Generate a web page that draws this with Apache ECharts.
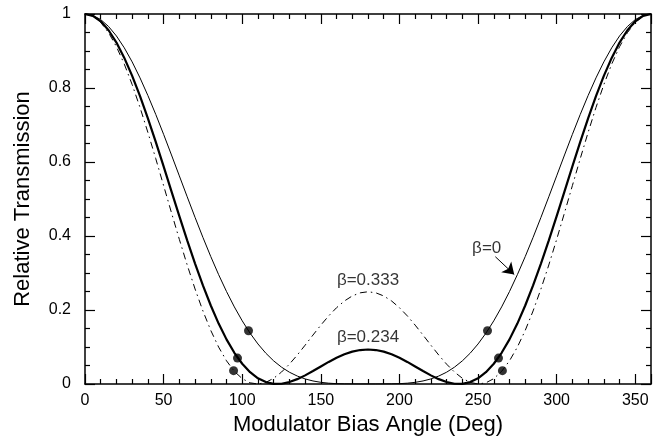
<!DOCTYPE html>
<html>
<head>
<meta charset="utf-8">
<script src="https://cdn.jsdelivr.net/npm/echarts@6/dist/echarts.min.js"></script>
<style>html,body{margin:0;padding:0;background:#fff}#c{width:654px;height:443px}</style>
</head>
<body>
<div id="c"></div>
<script>
const angles = [0,5,10,15,20,25,30,35,40,45,50,55,60,65,70,75,80,85,90,95,100,105,110,115,120,125,130,135,140,145,150,155,160,165,170,175,180,185,190,195,200,205,210,215,220,225,230,235,240,245,250,255,260,265,270,275,280,285,290,295,300,305,310,315,320,325,330,335,340,345,350,355,360];

const beta0 = [1,0.9962,0.9849,0.9662,0.9406,0.9085,0.8705,0.8273,0.7797,0.7286,0.6747,0.6190,0.5625,0.5060,0.4503,0.3962,0.3444,0.2955,0.2500,0.2083,0.1707,0.1373,0.1082,0.0833,0.0625,0.0455,0.0319,0.0215,0.0137,0.0082,0.0045,0.0022,0.0009,0.0003,0.0001,0,0,
  0,0.0001,0.0003,0.0009,0.0022,0.0045,0.0082,0.0137,0.0215,0.0319,0.0455,0.0625,0.0833,0.1082,0.1373,0.1707,0.2083,0.2500,0.2955,0.3444,0.3962,0.4503,0.5060,0.5625,0.6190,0.6747,0.7286,0.7797,0.8273,0.8705,0.9085,0.9406,0.9662,0.9849,0.9962,1];

const beta234 = [1,0.9951,0.9803,0.9560,0.9228,0.8814,0.8328,0.7779,0.7179,0.6542,0.5880,0.5208,0.4538,0.3883,0.3255,0.2665,0.2122,0.1633,0.1206,0.0843,0.0547,0.0318,0.0154,0.0051,0.0004,0.0007,0.0052,0.0131,0.0233,0.0351,0.0475,0.0597,0.0708,0.0802,0.0874,0.0918,0.0933,
  0.0918,0.0874,0.0802,0.0708,0.0597,0.0475,0.0351,0.0233,0.0131,0.0052,0.0007,0.0004,0.0051,0.0154,0.0318,0.0547,0.0843,0.1206,0.1633,0.2122,0.2665,0.3255,0.3883,0.4538,0.5208,0.5880,0.6542,0.7179,0.7779,0.8328,0.8814,0.9228,0.9560,0.9803,0.9951,1];

const beta333 = [1,0.9943,0.9774,0.9496,0.9116,0.8645,0.8092,0.7473,0.6800,0.6091,0.5362,0.4629,0.3909,0.3217,0.2568,0.1975,0.1448,0.0997,0.0627,0.0342,0.0145,0.0032,0.0000,0.0044,0.0155,0.0323,0.0536,0.0782,0.1049,0.1323,0.1591,0.1841,0.2062,0.2244,0.2380,0.2464,0.2493,
  0.2464,0.2380,0.2244,0.2062,0.1841,0.1591,0.1323,0.1049,0.0782,0.0536,0.0323,0.0155,0.0044,0.0000,0.0032,0.0145,0.0342,0.0627,0.0997,0.1448,0.1975,0.2568,0.3217,0.3909,0.4629,0.5362,0.6091,0.6800,0.7473,0.8092,0.8645,0.9116,0.9496,0.9774,0.9943,1];

const dotX = [104, 97, 94.5, 256, 263, 265.5];
const dotY = [0.144, 0.070, 0.036, 0.144, 0.070, 0.036];

const noteText = ['β=0.333', 'β=0.234', 'β=0'];
const noteX = [180, 180, 255.5];
const noteY = [0.281, 0.127, 0.368];

const arrowFrom = [261, 0.344];
const arrowTo = [273, 0.296];

const xTicks = {min: 0, max: 360, interval: 50};
const yTicks = {min: 0, max: 1, interval: 0.2};

const FONT = '"Liberation Sans", Arial, Helvetica, sans-serif';
const pair = (xs, ys) => xs.map((x, i) => [x, ys[i]]);

const chart = echarts.init(document.getElementById('c'));

function axisCommon(isX, showLabel) {
  return {
    type: 'value',
    min: isX ? xTicks.min : yTicks.min,
    max: isX ? xTicks.max : yTicks.max,
    interval: isX ? xTicks.interval : yTicks.interval,
    axisLine: {show: true, onZero: false, lineStyle: {color: '#000', width: 1.5}},
    axisTick: {show: true, inside: true, length: 10, lineStyle: {color: '#000', width: 1.2}},
    minorTick: {show: true, splitNumber: isX ? 5 : 4, length: 5, lineStyle: {color: '#000', width: 1.2}},
    splitLine: {show: false},
    minorSplitLine: {show: false},
    axisLabel: {
      show: showLabel,
      color: '#000',
      fontFamily: FONT,
      fontSize: 16,
      margin: isX ? 9 : 14,
      formatter: v => (isX && v === xTicks.max) ? '' : String(v)
    }
  };
}

const option = {
  animation: false,
  grid: {left: 85, right: 1.5, top: 14, bottom: 59},
  xAxis: [
    Object.assign(axisCommon(true, true), {
      position: 'bottom',
      name: 'Modulator Bias Angle (Deg)',
      nameLocation: 'middle',
      nameGap: 29,
      nameTextStyle: {color: '#000', fontFamily: FONT, fontSize: 22}
    }),
    Object.assign(axisCommon(true, false), {position: 'top'})
  ],
  yAxis: [
    Object.assign(axisCommon(false, true), {
      position: 'left',
      name: 'Relative Transmission',
      nameLocation: 'middle',
      nameGap: 51,
      nameTextStyle: {color: '#000', fontFamily: FONT, fontSize: 22}
    }),
    Object.assign(axisCommon(false, false), {position: 'right'})
  ],
  series: [
    {
      name: 'β=0', type: 'line', data: pair(angles, beta0), showSymbol: false,
      lineStyle: {color: '#000', width: 1},
      markLine: {
        silent: true, symbol: ['none', 'arrow'], symbolSize: 11,
        lineStyle: {color: '#000', width: 1, type: 'solid'}, label: {show: false},
        emphasis: {disabled: true},
        data: [[{coord: arrowFrom}, {coord: arrowTo}]]
      }
    },
    {
      name: 'β=0.234', type: 'line', data: pair(angles, beta234), showSymbol: false,
      lineStyle: {color: '#000', width: 2.2}
    },
    {
      name: 'β=0.333', type: 'line', data: pair(angles, beta333), showSymbol: false,
      lineStyle: {color: '#000', width: 1, type: [7, 4, 1.5, 4]}
    },
    {
      name: 'dots', type: 'scatter', data: pair(dotX, dotY), symbol: 'circle', symbolSize: 9,
      itemStyle: {color: '#000'}
    },
    {
      name: 'notes', type: 'scatter', symbolSize: 0,
      data: noteText.map((t, i) => ({value: [noteX[i], noteY[i]], name: t})),
      label: {show: true, position: 'inside', formatter: p => p.name, color: '#000', fontFamily: FONT, fontSize: 17}
    }
  ]
};
chart.setOption(option);
</script>
</body>
</html>
